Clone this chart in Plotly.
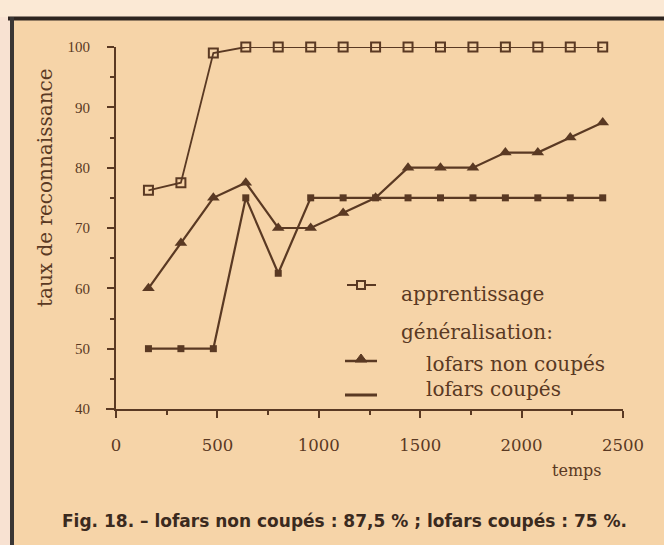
import plotly.graph_objects as go

# Temps d'apprentissage (abscisse commune aux trois courbes)
temps = [160, 320, 480, 640, 800, 960, 1120, 1280, 1440, 1600, 1760, 1920, 2080, 2240, 2400]

# Taux de reconnaissance (%)
apprentissage = [76.25, 77.5, 99, 100, 100, 100, 100, 100, 100, 100, 100, 100, 100, 100, 100]
lofars_non_coupes = [60, 67.5, 75, 77.5, 70, 70, 72.5, 75, 80, 80, 80, 82.5, 82.5, 85, 87.5]
lofars_coupes = [50, 50, 50, 75, 62.5, 75, 75, 75, 75, 75, 75, 75, 75, 75, 75]

x_ticks = [0, 500, 1000, 1500, 2000, 2500]
y_ticks = [40, 50, 60, 70, 80, 90, 100]

INK = "#5a3923"
PAPER = "#f6d4a8"
W, H = 664, 545
L, R, T, B = 116, 41, 47, 136
PW, PH = W - L - R, H - T - B


def px(x):
    return (x - L) / PW


def py(y):
    return (H - B - y) / PH


fig = go.Figure()
fig.add_trace(go.Scatter(
    x=temps, y=apprentissage, mode="lines+markers", cliponaxis=False,
    line=dict(color=INK, width=1.8),
    marker=dict(symbol="square-open", size=9, color=INK, line=dict(width=2, color=INK)),
))
fig.add_trace(go.Scatter(
    x=temps, y=lofars_non_coupes, mode="lines+markers", cliponaxis=False,
    line=dict(color=INK, width=2.2),
    marker=dict(symbol="triangle-up", size=11, color=INK),
))
fig.add_trace(go.Scatter(
    x=temps, y=lofars_coupes, mode="lines+markers", cliponaxis=False,
    line=dict(color=INK, width=2.2),
    marker=dict(symbol="square", size=7, color=INK),
))

shapes = []
# cadre du document
shapes.append(dict(type="rect", xref="paper", yref="paper", x0=px(0), x1=px(W), y0=py(17), y1=py(0),
                   fillcolor="#fbe9d5", line=dict(width=0), layer="below"))
shapes.append(dict(type="rect", xref="paper", yref="paper", x0=px(0), x1=px(10), y0=py(H), y1=py(17),
                   fillcolor="#f8e2d2", line=dict(width=0), layer="below"))
shapes.append(dict(type="line", xref="paper", yref="paper", x0=px(8), x1=px(W), y0=py(18.5), y1=py(18.5),
                   line=dict(color="#2e2520", width=4)))
shapes.append(dict(type="line", xref="paper", yref="paper", x0=px(12), x1=px(12), y0=py(17), y1=py(H),
                   line=dict(color="#3a3634", width=4)))
# prolongement des axes au croisement
shapes.append(dict(type="line", xref="paper", yref="paper", x0=px(106), x1=px(116), y0=0, y1=0,
                   line=dict(color=INK, width=2)))
shapes.append(dict(type="line", xref="paper", yref="paper", x0=0, x1=0, y0=py(409), y1=py(416),
                   line=dict(color=INK, width=2)))

# symboles de la légende
shapes.append(dict(type="line", xref="paper", yref="paper", x0=px(347), x1=px(376), y0=py(285), y1=py(285),
                   line=dict(color=INK, width=2)))
shapes.append(dict(type="rect", xref="paper", yref="paper", x0=px(357), x1=px(365), y0=py(289), y1=py(281),
                   fillcolor=PAPER, line=dict(color=INK, width=2)))
shapes.append(dict(type="line", xref="paper", yref="paper", x0=px(345), x1=px(377), y0=py(361), y1=py(361),
                   line=dict(color=INK, width=2.5)))
shapes.append(dict(type="path", xref="paper", yref="paper",
                   path=f"M {px(355)} {py(362)} L {px(367)} {py(362)} L {px(361)} {py(354)} Z",
                   fillcolor=INK, line=dict(color=INK, width=1)))
shapes.append(dict(type="line", xref="paper", yref="paper", x0=px(345), x1=px(377), y0=py(395), y1=py(395),
                   line=dict(color=INK, width=3)))

serif = "DejaVu Serif"


def label(text, x, y, size, xanchor="center", family=serif, color=INK, angle=0):
    return dict(text=text, x=px(x), y=py(y), xref="paper", yref="paper",
                xanchor=xanchor, yanchor="middle", textangle=angle, showarrow=False,
                font=dict(family=family, size=size, color=color))


annotations = [
    label("taux de reconnaissance", 45, 188, 20, angle=-90),
    label("temps", 577, 470, 16),
    label("apprentissage", 399, 294, 20, xanchor="left"),
    label("généralisation:", 399, 332, 20, xanchor="left"),
    label("lofars non coupés", 424, 364, 20, xanchor="left"),
    label("lofars coupés", 424, 389, 20, xanchor="left"),
    label("<b>Fig. 18. – lofars non coupés : 87,5 % ; lofars coupés : 75 %.</b>", 344, 521, 17,
          family="DejaVu Sans", color="#3b2a1e"),
]

fig.update_layout(
    width=W, height=H,
    margin=dict(l=L, r=R, t=T, b=B),
    paper_bgcolor=PAPER, plot_bgcolor=PAPER,
    showlegend=False,
    shapes=shapes, annotations=annotations,
    xaxis=dict(
        range=[0, 2500], tickvals=x_ticks, ticktext=[str(v) for v in x_ticks],
        showgrid=False, zeroline=False, showline=True, linecolor=INK, linewidth=2,
        ticks="outside", ticklen=7, tickwidth=2, tickcolor=INK, ticklabelstandoff=13,
        minor=dict(dtick=250, tick0=0, ticks="outside", ticklen=4, tickwidth=1.5, tickcolor=INK, showgrid=False),
        tickfont=dict(family=serif, size=16.5, color=INK),
    ),
    yaxis=dict(
        range=[40, 100], tickvals=y_ticks, ticktext=[str(v) for v in y_ticks],
        showgrid=False, zeroline=False, showline=True, linecolor=INK, linewidth=2,
        ticks="outside", ticklen=7, tickwidth=2, tickcolor=INK, ticklabelstandoff=14,
        minor=dict(dtick=5, tick0=40, ticks="outside", ticklen=4, tickwidth=1.5, tickcolor=INK, showgrid=False),
        tickfont=dict(family="Liberation Serif", size=15, color=INK),
    ),
)

fig.write_html("out.html")
